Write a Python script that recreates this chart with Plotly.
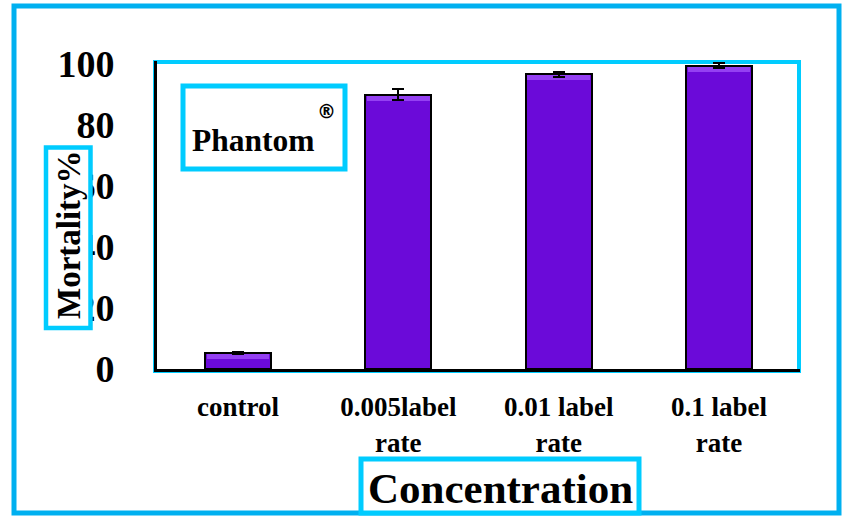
import plotly.graph_objects as go

# Mortality (%) of the pest under Phantom® treatments
categories = ["control", "0.005label<br>rate", "0.01 label<br>rate", "0.1 label<br>rate"]
mortality = [5.2, 90.0, 96.7, 99.4]
mortality_err = [0.3, 1.8, 0.8, 0.8]
y_ticks = [0, 20, 40, 60, 80, 100]

W, H = 843, 517
SERIF = "Liberation Serif, Times New Roman, serif"
BORDER = "#00B0F0"
CYAN = "#00CCFF"
BAR_FILL = "#6B0AD9"
BAR_HIGHLIGHT = "#9440F2"


def px_x(x):
    return x / W


def px_y(y):
    return 1 - y / H


fig = go.Figure()
# main bars
fig.add_trace(go.Bar(
    x=categories,
    y=mortality,
    width=0.41,
    marker=dict(color=BAR_FILL, line=dict(color="black", width=2)),
    showlegend=False, hoverinfo="skip",
))
# lighter bevel band just under each bar top
fig.add_trace(go.Bar(
    x=categories,
    y=[1.6] * len(mortality),
    base=[v - 2.0 for v in mortality],
    width=0.39,
    marker=dict(color=BAR_HIGHLIGHT, line=dict(width=0)),
    showlegend=False, hoverinfo="skip",
))
# error bars on top of everything
fig.add_trace(go.Bar(
    x=categories,
    y=mortality,
    width=0.41,
    marker=dict(color="rgba(0,0,0,0)", line=dict(width=0)),
    error_y=dict(type="data", array=mortality_err, color="black", thickness=2, width=6),
    showlegend=False,
))

fig.update_layout(
    width=W, height=H,
    margin=dict(l=0, r=0, t=0, b=0, autoexpand=False),
    paper_bgcolor="white", plot_bgcolor="white",
    barmode="overlay",
    bargap=0,
    xaxis=dict(
        domain=[px_x(157), px_x(800)],
        range=[-0.505, 3.505],
        automargin=False,
        showline=True, linecolor="black", linewidth=3,
        showgrid=False, ticks="",
        tickfont=dict(family=SERIF, size=27, color="black", weight="bold"),
        ticklabelstandoff=12,
    ),
    yaxis=dict(
        domain=[px_y(369), px_y(61)],
        range=[0, 101],
        automargin=False,
        tickvals=y_ticks,
        showline=True, linecolor="black", linewidth=3,
        showgrid=False, zeroline=False, ticks="",
        tickfont=dict(family=SERIF, size=38, color="black", weight="bold"),
        ticklabelstandoff=32,
    ),
)

shapes = [
    # outer frame
    dict(type="rect", xref="paper", yref="paper",
         x0=px_x(14), x1=px_x(839), y0=px_y(6), y1=px_y(513),
         line=dict(color=BORDER, width=5), layer="below"),
    # plot-area frame
    dict(type="rect", xref="paper", yref="paper",
         x0=px_x(155), x1=px_x(799), y0=px_y(62), y1=px_y(371),
         line=dict(color=CYAN, width=4), layer="below"),
    # y title box (white fill hides part of the tick labels)
    dict(type="rect", xref="paper", yref="paper",
         x0=px_x(46), x1=px_x(90.5), y0=px_y(147.5), y1=px_y(328),
         line=dict(color=CYAN, width=4.5), fillcolor="white", layer="above"),
    # legend-style product box
    dict(type="rect", xref="paper", yref="paper",
         x0=px_x(183), x1=px_x(345), y0=px_y(86), y1=px_y(169),
         line=dict(color=CYAN, width=5), fillcolor="white", layer="above"),
    # x title box
    dict(type="rect", xref="paper", yref="paper",
         x0=px_x(361), x1=px_x(639), y0=px_y(459), y1=px_y(513),
         line=dict(color=CYAN, width=5), fillcolor="white", layer="above"),
]
fig.update_layout(shapes=shapes)

label_common = dict(xref="paper", yref="paper", showarrow=False,
                    xanchor="center", yanchor="middle")
annotations = [
    dict(text="Mortality%", x=px_x(69), y=px_y(235), textangle=-90,
         font=dict(family=SERIF, size=33, color="black", weight="bold"), **label_common),
    dict(text="Phantom", x=px_x(254), y=px_y(140),
         font=dict(family=SERIF, size=31.5, color="black", weight="bold"), **label_common),
    dict(text="®", x=px_x(326), y=px_y(111),
         font=dict(family="DejaVu Sans, sans-serif", size=19, color="black", weight="bold"),
         **label_common),
    dict(text="Concentration", x=px_x(500), y=px_y(488),
         font=dict(family=SERIF, size=43, color="black", weight="bold"), **label_common),
]
fig.update_layout(annotations=annotations)

fig.write_html("out.html")
